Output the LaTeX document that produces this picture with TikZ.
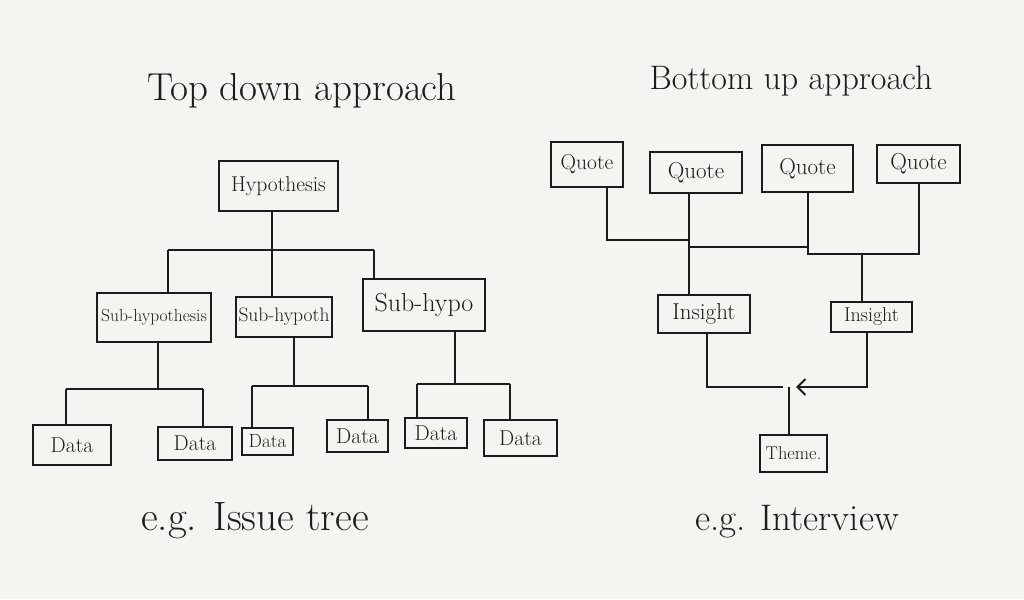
\documentclass[tikz,border=0pt]{standalone}
\usetikzlibrary{arrows.meta}
\definecolor{paper}{HTML}{F5F4F0}
\definecolor{ink}{HTML}{1C1C1C}
\tikzset{
  box/.style={rectangle, draw=ink, line width=2pt, inner sep=0pt, text=ink,
    font=\fontsize{21.5}{21.5}\selectfont},
  title/.style={anchor=base, text=ink, font=\fontsize{36}{36}\selectfont},
  note/.style={anchor=base, text=ink, font=\fontsize{39}{39}\selectfont},
  link/.style={draw=ink, line width=2pt},
}

\begin{document}
\begin{tikzpicture}[x=1pt,y=-1pt]
            \fill[paper] (0,0) rectangle (1024,599);
            \useasboundingbox (0,0) rectangle (1024,599);
            % top down
            \node[title, font=\fontsize{39}{39}\selectfont] (tdtitle) at (302,100) {Top down approach};
            \node[box, minimum width=119, minimum height=50] (hyp) at (278.5,186) {Hypothesis};
            \node[box, minimum width=114, minimum height=49, font=\fontsize{17.5}{17.5}\selectfont] (sub1) at (154,317.5) {Sub-hypothesis};
            \node[box, minimum width=96, minimum height=40, font=\fontsize{19.5}{19.5}\selectfont] (sub2) at (284,317) {Sub-hypoth};
            \node[box, minimum width=122, minimum height=52, font=\fontsize{26}{26}\selectfont] (sub3) at (424,305) {Sub-hypo};
            \node[box, minimum width=78, minimum height=40] (data1) at (72,445) {Data};
            \node[box, minimum width=74, minimum height=33] (data2) at (195,443.5) {Data};
            \node[box, minimum width=51, minimum height=27, font=\fontsize{19}{19}\selectfont] (data3) at (267.5,441.5) {Data};
            \node[box, minimum width=61, minimum height=32] (data4) at (357.5,436) {Data};
            \node[box, minimum width=62, minimum height=30] (data5) at (436,433) {Data};
            \node[box, minimum width=73, minimum height=36] (data6) at (520.5,438) {Data};
            \node[note, font=\fontsize{41}{41}\selectfont] (tdnote) at (255,530) {e.g. Issue tree};
            \coordinate (hj) at (272,250);
            \coordinate (hl) at (168,250);
            \coordinate (hr) at (374,250);
            \draw[link] (hj |- hyp.south) -- (hj);
            \draw[link] (hl) -- (hr);
            \draw[link] (hl) -- (hl |- sub1.north);
            \draw[link] (hj) -- (hj |- sub2.north);
            \draw[link] (hr) -- (hr |- sub3.north);
            \coordinate (s1j) at (158,389);
            \coordinate (s1l) at (66,389);
            \coordinate (s1r) at (203,389);
            \draw[link] (s1j |- sub1.south) -- (s1j);
            \draw[link] (s1l) -- (s1r);
            \draw[link] (s1l) -- (s1l |- data1.north);
            \draw[link] (s1r) -- (s1r |- data2.north);
            \coordinate (s2j) at (294,386);
            \coordinate (s2l) at (252,386);
            \coordinate (s2r) at (368,386);
            \draw[link] (s2j |- sub2.south) -- (s2j);
            \draw[link] (s2l) -- (s2r);
            \draw[link] (s2l) -- (s2l |- data3.north);
            \draw[link] (s2r) -- (s2r |- data4.north);
            \coordinate (s3j) at (455,384);
            \coordinate (s3l) at (417,384);
            \coordinate (s3r) at (510,384);
            \draw[link] (s3j |- sub3.south) -- (s3j);
            \draw[link] (s3l) -- (s3r);
            \draw[link] (s3l) -- (s3l |- data5.north);
            \draw[link] (s3r) -- (s3r |- data6.north);
            % bottom up
            \node[title, font=\fontsize{34}{34}\selectfont] (butitle) at (791,90) {Bottom up approach};
            \node[box, minimum width=72, minimum height=45] (quote1) at (587,164.5) {Quote};
            \node[box, minimum width=92, minimum height=41, font=\fontsize{23}{23}\selectfont] (quote2) at (696,172.5) {Quote};
            \node[box, minimum width=91, minimum height=47, font=\fontsize{23}{23}\selectfont] (quote3) at (807.5,168.5) {Quote};
            \node[box, minimum width=83, minimum height=38, font=\fontsize{23}{23}\selectfont] (quote4) at (918.5,164) {Quote};
            \node[box, minimum width=92, minimum height=38, font=\fontsize{23}{23}\selectfont] (ins1) at (704,314) {Insight};
            \node[box, minimum width=81, minimum height=30, font=\fontsize{20}{20}\selectfont] (ins2) at (871.5,317) {Insight};
            \node[box, minimum width=67, minimum height=37, font=\fontsize{18.5}{18.5}\selectfont] (theme) at (793.5,453.5) {Theme.};
            \node[note, font=\fontsize{37}{37}\selectfont] (bunote) at (797,530) {e.g. Interview};
            \coordinate (qa) at (607,240);
            \coordinate (qb) at (689,247);
            \coordinate (qc) at (808,254);
            \coordinate (qd) at (862,254);
            \draw[link] (qa |- quote1.south) -- (qa) -- (qa -| qb);
            \draw[link] (qb |- quote2.south) -- (qb) -- (qb -| qc);
            \draw[link] (qc |- quote3.south) -- (qc) -| (quote4.south);
            \draw[link] (qb) -- (qb |- ins1.north);
            \draw[link] (qd) -- (qd |- ins2.north);
            \coordinate (tj) at (789,387);
            \coordinate (il) at (707,387);
            \coordinate (ir) at (867,387);
            \draw[link] (il |- ins1.south) -- (il) -- ([xshift=-6pt]tj);
            \draw[link, -{Straight Barb[length=8pt,width=16pt]}] (ir |- ins2.south) -- (ir) -- ([xshift=7pt]tj);
            \draw[link] (tj) -- (tj |- theme.north);
        \end{tikzpicture}
\end{document}
